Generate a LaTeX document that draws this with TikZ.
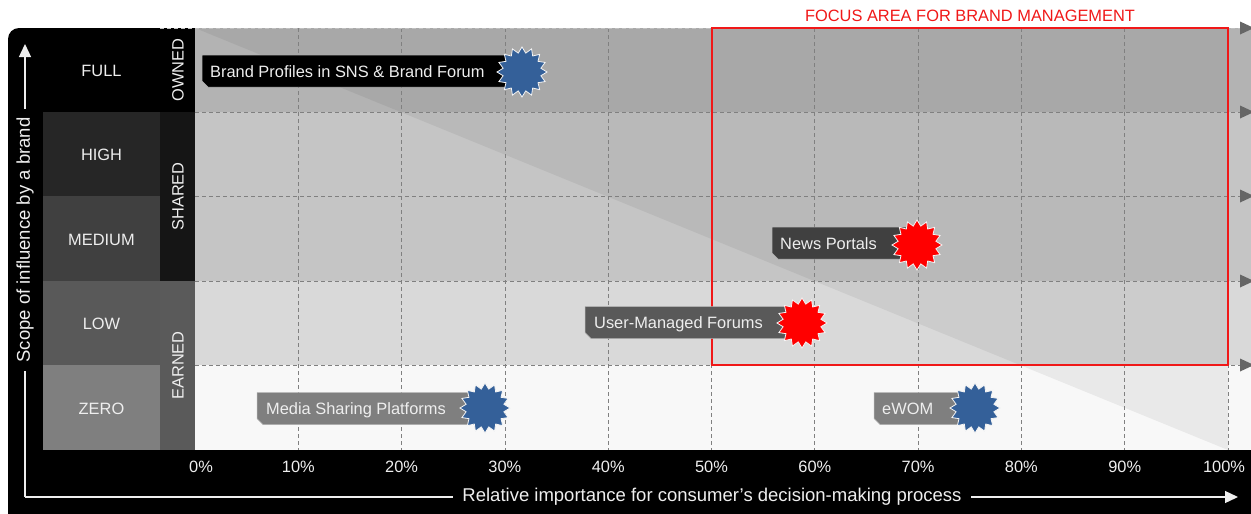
\documentclass[tikz,border=0pt]{standalone}
\usepackage{fontspec}
\setmainfont{Liberation Sans}
\usetikzlibrary{shapes.geometric,arrows.meta}
\definecolor{starblue}{HTML}{346099}
\definecolor{starred}{HTML}{FF0000}
\definecolor{rowfull}{HTML}{B3B3B3}
\definecolor{rowshared}{HTML}{C5C5C5}
\definecolor{rowlow}{HTML}{D9D9D9}
\definecolor{rowzero}{HTML}{F8F8F8}
\definecolor{cellhigh}{HTML}{262626}
\definecolor{cellmed}{HTML}{404040}
\definecolor{celllow}{HTML}{595959}
\definecolor{cellzero}{HTML}{7F7F7F}
\definecolor{colshared}{HTML}{151515}
\definecolor{colearned}{HTML}{5A5A5A}
\definecolor{gridgray}{HTML}{808080}
\definecolor{arrowgray}{HTML}{666666}
\definecolor{textlight}{HTML}{EEEEEE}
\definecolor{focusred}{HTML}{F01818}
\newcommand\lblbox[4]{%
  \fill[#4, draw=gray!60, line width=0.5pt] (#1,{#2-16}) -- (#3,{#2-16}) -- (#3,{#2+16}) -- ({#1+6},{#2+16}) -- (#1,{#2+10}) -- cycle;}
\tikzset{
  gridline/.style={gridgray, dashed, dash pattern=on 4pt off 3pt, line width=0.8pt},
  celltext/.style={text=textlight, inner sep=0pt, font=\fontsize{16.4}{19}\selectfont},
  tagtext/.style={text=textlight, inner sep=0pt, anchor=base west, font=\fontsize{16.4}{19}\selectfont},
  axisline/.style={textlight, line width=1.3pt},
  axistext/.style={text=textlight, fill=black, inner xsep=9pt, inner ysep=2pt, font=\fontsize{18.5}{21}\selectfont},
  burst/.style={star, star points=16, star point ratio=1.3, minimum size=50pt, inner sep=0pt, draw=white!92!gray, line width=0.8pt},
}
\begin{document}
\begin{tikzpicture}[x=1pt,y=-1pt]
\useasboundingbox (0,0) rectangle (1251,514);
\clip (0,0) rectangle (1251,514);
% black frame
\fill[black, rounded corners=11pt] (8,28) rectangle (1275,545);
% chart rows
\fill[rowfull] (195,28) rectangle (1251,112);
\fill[rowshared] (195,112) rectangle (1251,281);
\fill[rowlow] (195,281) rectangle (1251,365);
\fill[rowzero] (195,365) rectangle (1251,450);
\fill[black, opacity=0.06] (195,28) -- (1228,28) -- (1228,450) -- cycle;
% left cells
\fill[cellhigh] (43,112) rectangle (160,196);
\fill[cellmed] (43,196) rectangle (160,281);
\fill[celllow] (43,281) rectangle (160,365);
\fill[cellzero] (43,365) rectangle (160,450);
\fill[colshared] (160,112) rectangle (195,281);
\fill[colearned] (160,281) rectangle (195,450);
% grid
\foreach \k in {1,...,10} \draw[gridline] ({195+103.3*\k},28) -- ({195+103.3*\k},450);
\foreach \y in {112,196,281,365} \draw[gridline] (195,\y) -- (1240,\y);
\draw[gridline, gridgray!50] (160,28) -- (1240,28);
\foreach \y in {28,112,196,281,365} \fill[arrowgray] (1240,{\y-6.5}) -- (1254,\y) -- (1240,{\y+6.5}) -- cycle;
% focus area
\draw[focusred, line width=1.4pt] (712,28) -- (1228,28) -- (1228,365) -- (712,365) -- cycle;
\node[text=focusred, inner sep=0pt, font=\fontsize{16.4}{19}\selectfont] (focus) at (970,16) {FOCUS AREA FOR BRAND MANAGEMENT};
% level labels
\node[celltext] (lfull) at (101.5,71) {FULL};
\node[celltext] (lhigh) at (101.5,155) {HIGH};
\node[celltext] (lmed) at (101.5,240) {MEDIUM};
\node[celltext] (llow) at (101.5,324) {LOW};
\node[celltext] (lzero) at (101.5,409) {ZERO};
\node[celltext, rotate=90] (owned) at (178,70) {OWNED};
\node[celltext, rotate=90] (shared) at (178,196.5) {SHARED};
\node[celltext, rotate=90] (earned) at (178,365.5) {EARNED};
% percent labels
\node[celltext] (p0) at (201,467) {0\%};
\node[celltext] (p10) at (298.3,467) {10\%};
\node[celltext] (p20) at (401.6,467) {20\%};
\node[celltext] (p30) at (504.9,467) {30\%};
\node[celltext] (p40) at (608.2,467) {40\%};
\node[celltext] (p50) at (711.5,467) {50\%};
\node[celltext] (p60) at (814.8,467) {60\%};
\node[celltext] (p70) at (918.1,467) {70\%};
\node[celltext] (p80) at (1021.4,467) {80\%};
\node[celltext] (p90) at (1124.7,467) {90\%};
\node[celltext] (p100) at (1224,467) {100\%};
% axes
\coordinate (corner) at (25,497);
\coordinate (ytip) at (25,44);
\coordinate (xtip) at (1238,497);
\draw[axisline, -{Triangle[width=12pt,length=13pt]}] (corner) -- (ytip);
\draw[axisline, -{Triangle[width=12pt,length=13pt]}] (corner) -- (xtip);
\node[axistext, rotate=90] (ylab) at (25,240) {Scope of influence by a brand};
\node[axistext] (xlab) at (712,497) {Relative importance for consumer's decision-making process};
% tags
\lblbox{202}{71}{515}{black}
\node[tagtext] (t1) at (210,77) {Brand Profiles in SNS \& Brand Forum};
\node[burst, fill=starblue] (s1) at (522,72) {};
\lblbox{772}{243}{910}{cellmed}
\node[tagtext] (t2) at (780,249) {News Portals};
\node[burst, fill=starred] (s2) at (917,245) {};
\lblbox{585}{322.5}{795}{celllow}
\node[tagtext] (t3) at (594,328.5) {User-Managed Forums};
\node[burst, fill=starred] (s3) at (802,323) {};
\lblbox{257}{408.5}{478}{cellzero}
\node[tagtext] (t4) at (266,414.5) {Media Sharing Platforms};
\node[burst, fill=starblue] (s4) at (485,408) {};
\lblbox{874}{408.5}{968}{cellzero}
\node[tagtext] (t5) at (882,414.5) {eWOM};
\node[burst, fill=starblue] (s5) at (975,408) {};
\end{tikzpicture}
\end{document}
